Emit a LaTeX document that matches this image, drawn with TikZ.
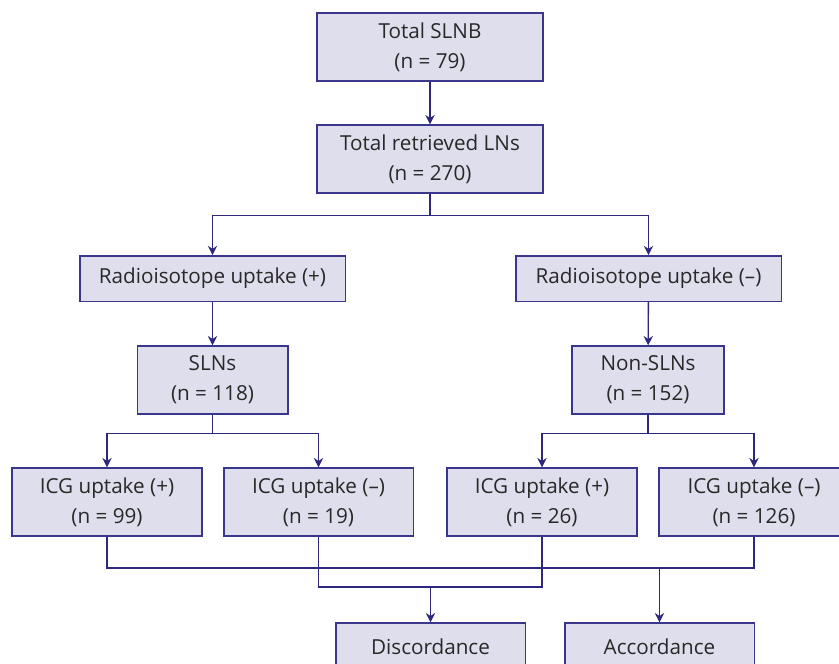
\documentclass[tikz,border=0pt]{standalone}
\usepackage{fontspec}
\setmainfont{Open Sans}
\usetikzlibrary{arrows.meta}

\definecolor{boxfill}{RGB}{223,222,236}
\definecolor{boxline}{RGB}{58,54,140}
\definecolor{wirecol}{RGB}{45,40,125}
\definecolor{txtcol}{RGB}{40,40,40}

\tikzset{
  box/.style = {draw=boxline, fill=boxfill, line width=1pt, text=txtcol,
                align=center, inner sep=0pt,
                font=\fontsize{15.5}{22.5}\selectfont},
  wire/.style = {draw=wirecol, line width=1pt},
  arr/.style = {wire, -{Stealth[length=7pt,width=7pt]}}
}

\begin{document}
\begin{tikzpicture}[x=0.75pt, y=-0.75pt]
\useasboundingbox (0,0) rectangle (839,664);

% top of the tree
\node[box, minimum width=169.5pt, minimum height=51pt] (slnb) at (430,47) {Total SLNB\\(n = 79)};
\node[box, minimum width=169.5pt, minimum height=51pt] (lns) at (430,159) {Total retrieved LNs\\(n = 270)};

% radioisotope split
\node[box, minimum width=199pt, minimum height=34pt] (rplus) at (212.5,278.5) {Radioisotope uptake (+)};
\node[box, minimum width=199pt, minimum height=34pt] (rminus) at (648.5,278.5) {Radioisotope uptake (\textendash)};

\node[box, minimum width=113pt, minimum height=51pt] (slns) at (212.5,380) {SLNs\\(n = 118)};
\node[box, minimum width=114pt, minimum height=51pt] (nonslns) at (648,380) {Non-SLNs\\(n = 152)};

% ICG split
\node[box, minimum width=142.5pt, minimum height=51pt] (icgA) at (107,502) {ICG uptake (+)\\(n = 99)};
\node[box, minimum width=142pt, minimum height=51pt] (icgB) at (318.5,502) {ICG uptake (\textendash)\\(n = 19)};
\node[box, minimum width=142.5pt, minimum height=51pt] (icgC) at (542,502) {ICG uptake (+)\\(n = 26)};
\node[box, minimum width=142.5pt, minimum height=51pt] (icgD) at (754,502) {ICG uptake (\textendash)\\(n = 126)};

% results
\node[box, minimum width=142pt, minimum height=36pt] (disc) at (430.5,647) {Discordance};
\node[box, minimum width=142pt, minimum height=36pt] (acc) at (659.5,647) {Accordance};

\coordinate (accjoin) at (659.5,568);
\coordinate (discjoin) at (430.5,587);

\draw[arr] (slnb) -- (lns);
\draw[arr] (lns.south) -- ++(0,22) -| (rplus.north);
\draw[arr] (lns.south) -- ++(0,22) -| (rminus.north);
\draw[arr] (rplus) -- (slns);
\draw[arr] (rminus) -- (nonslns);
\draw[arr] (slns.south) -- ++(0,19) -| (icgA.north);
\draw[arr] (slns.south) -- ++(0,19) -| (icgB.north);
\draw[arr] (nonslns.south) -- ++(0,19) -| (icgC.north);
\draw[arr] (nonslns.south) -- ++(0,19) -| (icgD.north);

\draw[wire] (icgA.south) |- (accjoin) -| (icgD.south);
\draw[wire] (icgB.south) |- (discjoin) -| (icgC.south);
\draw[arr] (accjoin) -- (acc.north);
\draw[arr] (discjoin) -- (disc.north);
\end{tikzpicture}
\end{document}
